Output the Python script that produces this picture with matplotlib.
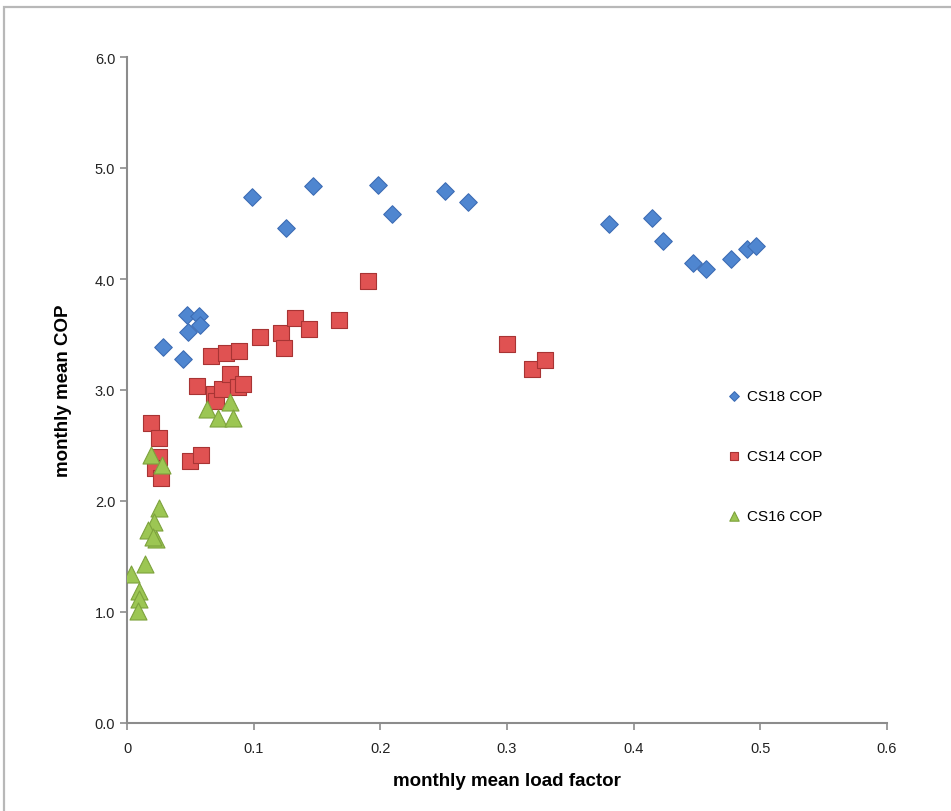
import matplotlib
matplotlib.use("Agg")
import matplotlib.pyplot as plt
from matplotlib.patches import Rectangle
from matplotlib.ticker import FormatStrFormatter

plt.rcParams['font.family'] = ['Liberation Sans Narrow', 'Liberation Sans', 'DejaVu Sans']

# CS18 COP (blue diamonds)
cs18_x = [0.0284, 0.0442, 0.0474, 0.048, 0.0568, 0.0576, 0.0987, 0.1255, 0.1468,
          0.198, 0.209, 0.251, 0.269, 0.3805, 0.4145, 0.423, 0.447, 0.457,
          0.477, 0.4895, 0.4966]
cs18_y = [3.39, 3.28, 3.68, 3.52, 3.67, 3.59, 4.74, 4.46, 4.84,
          4.85, 4.59, 4.79, 4.69, 4.50, 4.55, 4.34, 4.14, 4.09,
          4.18, 4.27, 4.30]

# CS14 COP (red squares)
cs14_x = [0.0187, 0.0253, 0.0253, 0.0221, 0.0266, 0.0497, 0.0584, 0.055, 0.0663,
          0.0689, 0.0703, 0.0747, 0.0784, 0.0813, 0.0874, 0.0918, 0.0886, 0.1053,
          0.1213, 0.1237, 0.1326, 0.1437, 0.1676, 0.190, 0.300, 0.3197, 0.3298]
cs14_y = [2.70, 2.57, 2.40, 2.30, 2.21, 2.36, 2.41, 3.04, 3.31,
          2.96, 2.90, 3.01, 3.33, 3.14, 3.03, 3.05, 3.35, 3.48,
          3.51, 3.38, 3.65, 3.55, 3.63, 3.98, 3.41, 3.19, 3.27]

# CS16 COP (green triangles)
cs16_x = [0.0032, 0.0142, 0.0097, 0.0092, 0.0087, 0.0253, 0.0216, 0.0168, 0.0229,
          0.0205, 0.0187, 0.0274, 0.0634, 0.072, 0.0813, 0.0839]
cs16_y = [1.34, 1.43, 1.19, 1.12, 1.01, 1.94, 1.81, 1.74, 1.66,
          1.68, 2.41, 2.32, 2.83, 2.75, 2.89, 2.75]

fig = plt.figure(figsize=(9.51, 8.12), dpi=100)
# chart area border (runs off the right and bottom of the image)
fig.patches.append(Rectangle((4 / 951, -0.1), 1.2, 1.1 - 8 / 812,
                             transform=fig.transFigure, fill=False,
                             edgecolor='#b8b8b8', linewidth=1.6))
ax = fig.add_axes([127 / 951, 88 / 812, 760 / 951, 666 / 812])

ax.scatter(cs18_x, cs18_y, marker='D', s=80, color='#4f86d0', edgecolors='#3d6db5',
           linewidths=0.8, label='CS18 COP', zorder=3)
ax.scatter(cs14_x, cs14_y, marker='s', s=130, color='#e05252', edgecolors='#a83434',
           linewidths=0.8, label='CS14 COP', zorder=3)
ax.scatter(cs16_x, cs16_y, marker='^', s=150, color='#9cc653', edgecolors='#7da23c',
           linewidths=0.8, label='CS16 COP', zorder=4)

ax.set_xlim(0, 0.6)
ax.set_ylim(0, 6.0)
ax.set_xticks([0, 0.1, 0.2, 0.3, 0.4, 0.5, 0.6])
ax.set_xticklabels(['0', '0.1', '0.2', '0.3', '0.4', '0.5', '0.6'])
ax.set_yticks([0, 1, 2, 3, 4, 5, 6])
ax.yaxis.set_major_formatter(FormatStrFormatter('%.1f'))

for side in ['top', 'right']:
    ax.spines[side].set_visible(False)
for side in ['left', 'bottom']:
    ax.spines[side].set_color('#8c8c8c')
    ax.spines[side].set_linewidth(1.5)
ax.tick_params(axis='both', colors='#8c8c8c', length=5, width=1.2, labelsize=10.5,
               labelcolor='#222222')
ax.tick_params(axis='x', pad=8)

ax.set_xlabel('monthly mean load factor', fontsize=13.5, fontweight='bold', labelpad=12)
ax.set_ylabel('monthly mean COP', fontsize=13.5, fontweight='bold', labelpad=16)

ax.legend(loc='center left', bbox_to_anchor=(0.765, 0.401), frameon=False, fontsize=11,
          labelspacing=3.0, handletextpad=0.0, handlelength=1.6, markerscale=0.55)

fig.savefig('out.png', dpi=100)
